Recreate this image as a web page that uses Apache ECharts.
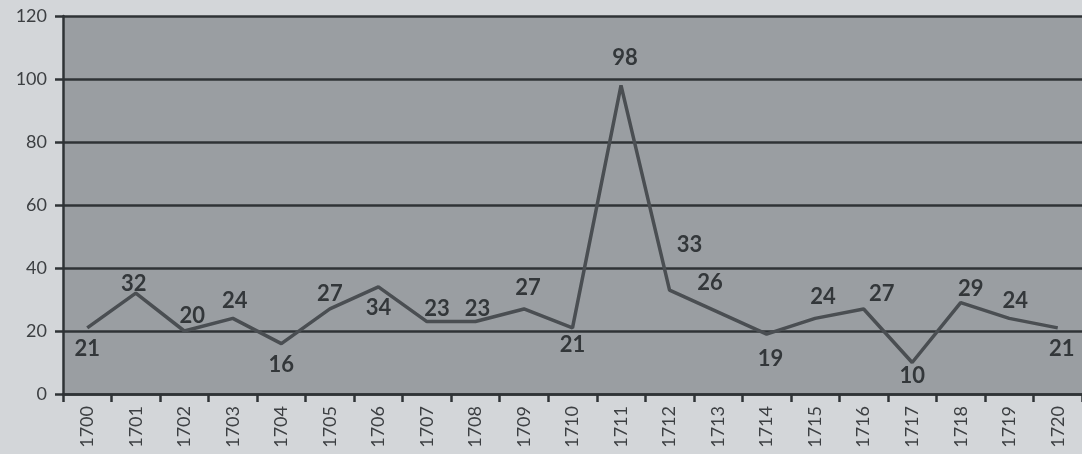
<!DOCTYPE html>
<html>
<head>
<meta charset="utf-8">
<title>1700-1720</title>
<script src="https://cdn.jsdelivr.net/npm/echarts@6/dist/echarts.min.js"></script>
<style>
	html, body { margin:0; padding:0; background:#d3d6d9; }
	#e_chart_1 { width:1082px; height:454px; }
</style>
</head>
<body>
<div id="e_chart_1"></div>
<script>
"use strict";

/*****Data*****/
var years = ['1700','1701','1702','1703','1704','1705','1706','1707','1708','1709','1710',
	'1711','1712','1713','1714','1715','1716','1717','1718','1719','1720'];
var counts = [21, 32, 20, 24, 16, 27, 34, 23, 23, 27, 21, 98, 33, 26, 19, 24, 27, 10, 29, 24, 21];
var yTicks = [0, 20, 40, 60, 80, 100, 120];

/*label side for each point, t = above, b = below*/
var labelSide = ['b','t','t','t','b','t','b','t','t','t','b','t','t','t','b','t','t','b','t','t','b'];
var labelShift = {
	1: [-2, 6], 2: [8, 0], 3: [2, -2], 7: [10, 3], 8: [2, 3], 9: [4, -6],
	10: [0, -4], 11: [4, -12], 12: [20, -30], 13: [-8, -14], 14: [4, 3],
	15: [8, -6], 16: [18, 0], 17: [0, -8], 18: [10, 2], 19: [6, -2], 20: [4, 0]
};

/*****E-Charts function start*****/
var echartsConfig = function() {
	var eChart_1 = echarts.init(document.getElementById('e_chart_1'));
	var seriesData = counts.map(function(v, i) {
		return {
			value: v,
			label: {
				position: labelSide[i] === 't' ? 'top' : 'bottom',
				distance: labelSide[i] === 't' ? 4 : 10,
				offset: labelShift[i] || [0, 0]
			}
		};
	});
	var option = {
		backgroundColor: '#d3d6d9',
		animation: false,
		grid: {
			left: 63,
			right: -2,
			top: 16,
			bottom: 60,
			show: true,
			backgroundColor: '#9a9ea2',
			borderWidth: 0
		},
		xAxis: {
			type: 'category',
			boundaryGap: true,
			data: years,
			axisLine: {
				show: true,
				lineStyle: { color: '#2f3336', width: 2.5 }
			},
			axisTick: {
				show: true,
				length: 8,
				lineStyle: { color: '#2f3336', width: 2.5 }
			},
			axisLabel: {
				rotate: 90,
				margin: 12,
				color: '#3c3f42',
				fontFamily: "'Lato', sans-serif",
				fontSize: 18
			}
		},
		yAxis: {
			type: 'value',
			min: 0,
			max: 120,
			interval: 20,
			axisLine: {
				show: true,
				lineStyle: { color: '#2f3336', width: 2.5 }
			},
			axisTick: {
				show: true,
				length: 8,
				lineStyle: { color: '#2f3336', width: 2.5 }
			},
			axisLabel: {
				margin: 16,
				color: '#3c3f42',
				fontFamily: "'Lato', sans-serif",
				fontSize: 18,
				formatter: function(v) { return yTicks.indexOf(v) > -1 ? String(v) : ''; }
			},
			splitLine: {
				show: true,
				lineStyle: { color: '#2f3336', width: 2.5 }
			}
		},
		series: [{
			type: 'line',
			data: seriesData,
			showSymbol: true,
			symbol: 'circle',
			symbolSize: 1,
			itemStyle: { color: 'rgba(0,0,0,0)' },
			lineStyle: { color: '#4a4e52', width: 3.5 },
			label: {
				show: true,
				color: '#33373a',
				fontFamily: "'Lato', sans-serif",
				fontWeight: 'bold',
				fontSize: 22
			}
		}]
	};
	eChart_1.setOption(option);
	eChart_1.resize();
};
/*****E-Charts function end*****/

echartsConfig();
</script>
</body>
</html>
